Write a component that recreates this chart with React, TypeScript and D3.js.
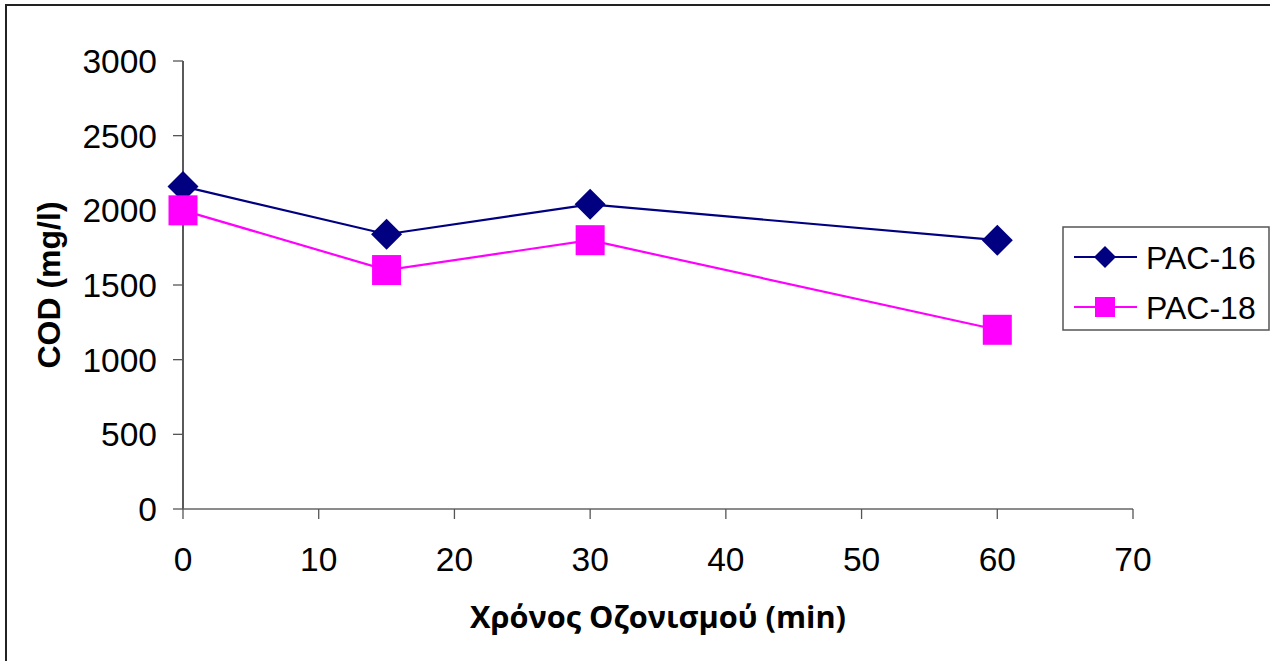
import React from "react";
import * as d3 from "d3";

const times = [0, 15, 30, 60];
const pac16 = [2160, 1840, 2040, 1800];
const pac18 = [2000, 1600, 1800, 1200];
const xTicks = [0, 10, 20, 30, 40, 50, 60, 70];
const yTicks = [0, 500, 1000, 1500, 2000, 2500, 3000];
const seriesNames = ["PAC-16", "PAC-18"];

const W = 1270;
const H = 661;
const plot = { left: 183, right: 1133, top: 61, bottom: 509 };

export default function App() {
  const x = d3.scaleLinear().domain([0, 70]).range([plot.left, plot.right]);
  const y = d3.scaleLinear().domain([0, 3000]).range([plot.bottom, plot.top]);
  const line = d3
    .line<number>()
    .x((_, i) => x(times[i]))
    .y((d) => y(d));

  const font = "Arial, 'Liberation Sans', sans-serif";
  const navy = "#000080";
  const magenta = "#FF00FF";
  const diamond = (cx: number, cy: number, r: number) =>
    `M${cx},${cy - r}L${cx + r},${cy}L${cx},${cy + r}L${cx - r},${cy}Z`;

  return (
    <svg
      width={W}
      height={H}
      style={{ position: "fixed", left: 0, top: 0, background: "#fff" }}
    >
      <rect x={0} y={0} width={W} height={H} fill="#fff" />
      {/* chart area border */}
      <rect x={6} y={5} width={W + 20} height={H + 20} fill="none" stroke="#222" strokeWidth={2} />

      {/* y axis */}
      <line x1={plot.left} x2={plot.left} y1={plot.top} y2={plot.bottom} stroke="#000" strokeWidth={1.3} />
      {yTicks.map((t) => (
        <g key={"y" + t}>
          <line x1={plot.left - 10} x2={plot.left} y1={y(t)} y2={y(t)} stroke="#555" strokeWidth={1.3} />
          <text
            x={157}
            y={y(t)}
            dy="0.36em"
            textAnchor="end"
            fontFamily={font}
            fontSize={33.5}
            fill="#000"
          >
            {t}
          </text>
        </g>
      ))}

      {/* x axis */}
      <line x1={plot.left} x2={plot.right} y1={plot.bottom} y2={plot.bottom} stroke="#666" strokeWidth={1.5} />
      {xTicks.map((t) => (
        <g key={"x" + t}>
          <line x1={x(t)} x2={x(t)} y1={plot.bottom} y2={plot.bottom + 10} stroke="#555" strokeWidth={1.3} />
          <text x={x(t)} y={571} textAnchor="middle" fontFamily={font} fontSize={33.5} fill="#000">
            {t}
          </text>
        </g>
      ))}

      {/* axis titles */}
      <text
        transform="translate(60,285) rotate(-90)"
        textAnchor="middle"
        fontFamily={font}
        fontWeight="bold"
        fontSize={32}
        fill="#000"
      >
        COD (mg/l)
      </text>
      <text
        x={658}
        y={628}
        textAnchor="middle"
        fontFamily="'Open Sans', sans-serif"
        fontWeight="bold"
        fontSize={30.7}
        fill="#000"
      >
        Χρόνος Οζονισμού (min)
      </text>

      {/* series */}
      <path d={line(pac16) || ""} fill="none" stroke={navy} strokeWidth={2.2} />
      <path d={line(pac18) || ""} fill="none" stroke={magenta} strokeWidth={2.2} />
      {pac16.map((v, i) => (
        <path key={"a" + i} d={diamond(x(times[i]), y(v), 15.5)} fill={navy} />
      ))}
      {pac18.map((v, i) => (
        <rect key={"b" + i} x={x(times[i]) - 14.5} y={y(v) - 15} width={29} height={30} fill={magenta} />
      ))}

      {/* legend */}
      <rect x={1063} y={227} width={206} height={103} fill="#fff" stroke="#555" strokeWidth={1.5} />
      {seriesNames.map((name, i) => {
        const cy = 257 + i * 50;
        const color = i === 0 ? navy : magenta;
        return (
          <g key={name}>
            <line x1={1074} x2={1137} y1={cy} y2={cy} stroke={color} strokeWidth={2.2} />
            {i === 0 ? (
              <path d={diamond(1105, cy, 11)} fill={color} />
            ) : (
              <rect x={1095} y={cy - 10} width={20} height={20} fill={color} />
            )}
            <text x={1146} y={cy} dy="0.36em" fontFamily={font} fontSize={32} fill="#000">
              {name}
            </text>
          </g>
        );
      })}
    </svg>
  );
}
